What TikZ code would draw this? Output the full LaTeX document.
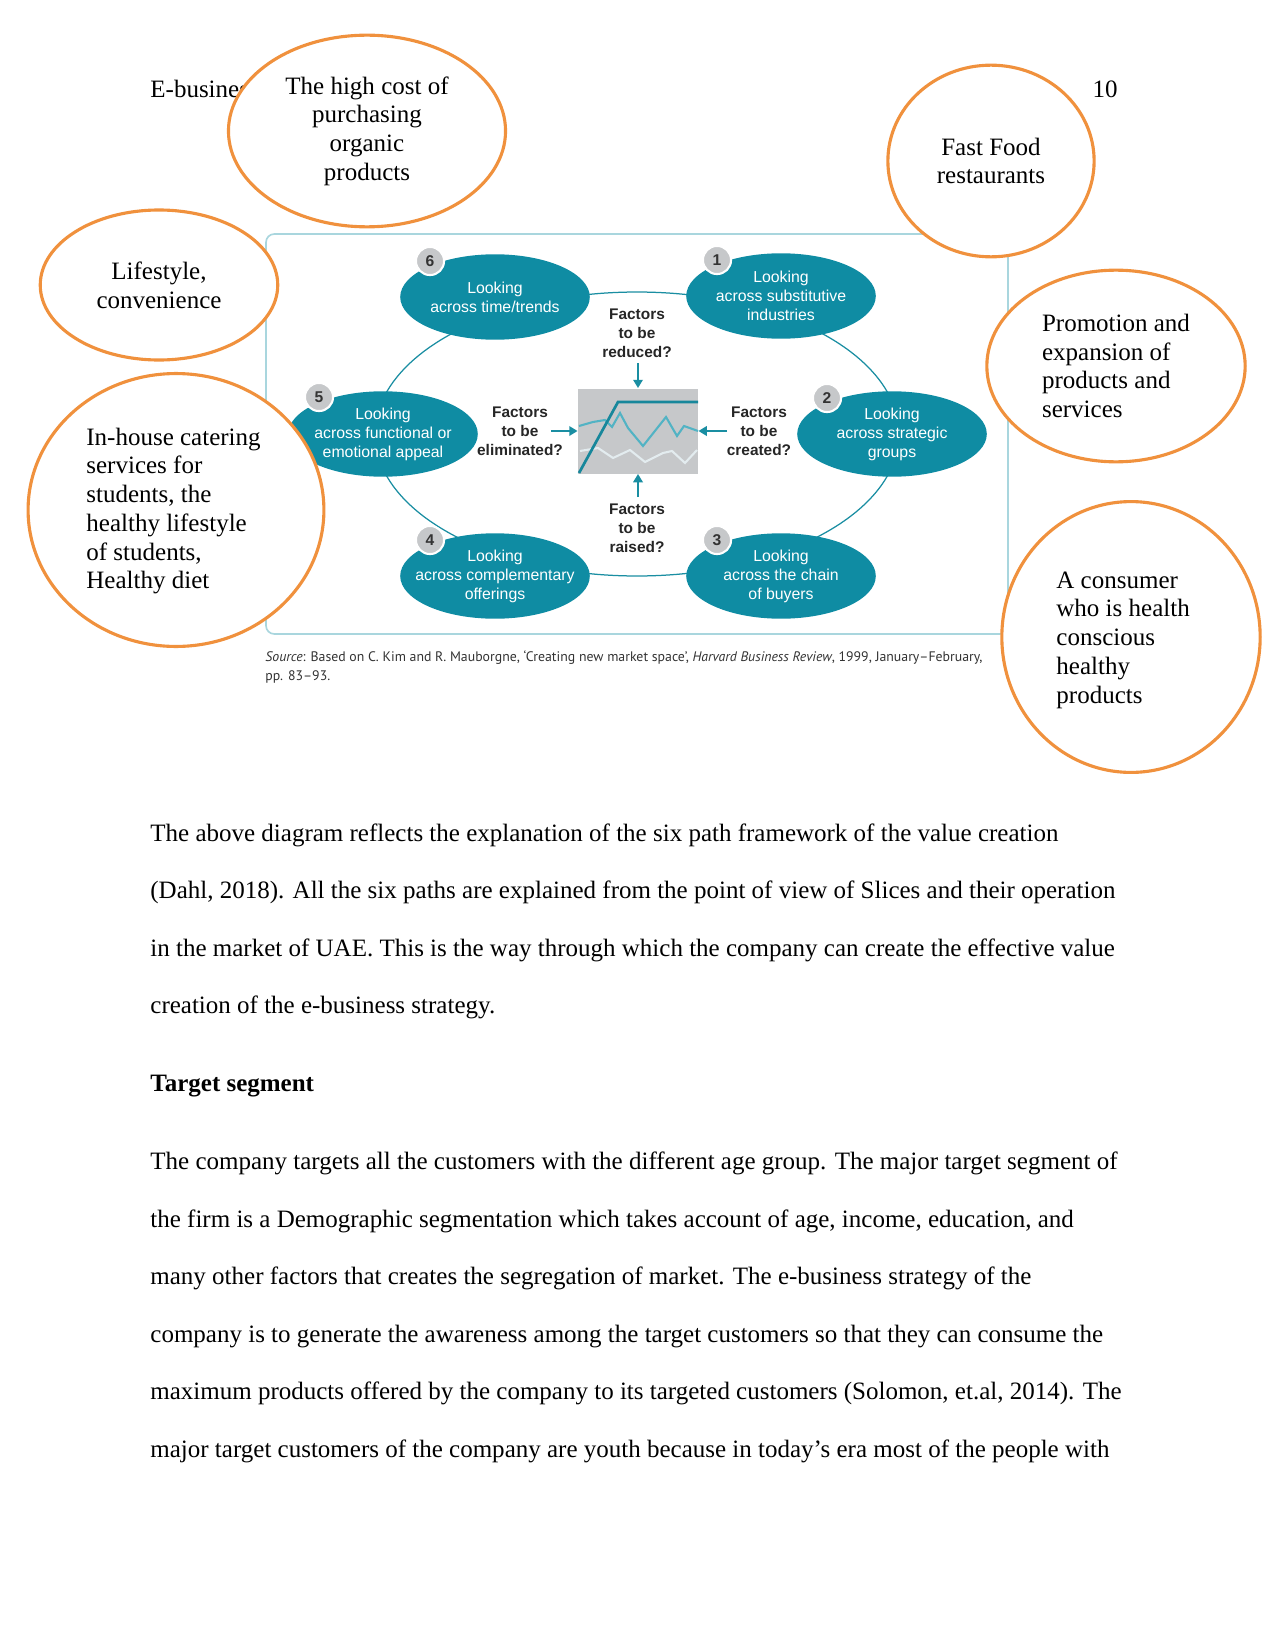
\documentclass[tikz,border=0pt]{standalone}
\usepackage{fontspec}
\setmainfont{Liberation Serif}
\setsansfont{Liberation Sans}
\newfontfamily\srcfont{PT Sans}
\usetikzlibrary{positioning,arrows.meta,shapes.geometric}
\definecolor{cteal}{HTML}{0F8CA3}
\definecolor{cline}{HTML}{1A8EA2}
\definecolor{cframe}{HTML}{A9D6DE}
\definecolor{cbadge}{HTML}{C6C8CA}
\definecolor{corange}{HTML}{F0913D}
\definecolor{cbox}{HTML}{C6C8CA}
\definecolor{cmid}{HTML}{52B3C4}
\definecolor{cpale}{HTML}{E3ECEF}
\definecolor{cdark}{HTML}{17879B}

\begin{document}
\begin{tikzpicture}[
  x=0.48pt, y=-0.48pt,
  pathnode/.style={ellipse, fill=cteal, text=white, inner sep=0pt, inner xsep=-8pt, minimum width=91pt, minimum height=41pt, align=center, font=\sffamily\fontsize{7.6}{9.1}\selectfont},
  badge/.style={circle, fill=cbadge, draw=white, line width=1pt, minimum size=13.5pt, inner sep=0pt, font=\sffamily\bfseries\fontsize{7.5}{8}\selectfont, text=black!80},
  factor/.style={align=center, inner sep=1pt, font=\sffamily\bfseries\fontsize{7.4}{9.1}\selectfont, text=black!85},
  farrow/.style={-{Triangle[length=4pt,width=4.5pt]}, cline, line width=1pt},
  bubble/.style={ellipse, draw=corange, line width=1.5pt, fill=white, inner sep=0pt, font=\fontsize{12}{13.8}\selectfont},
  bubtext/.style={anchor=west, align=left, inner sep=0pt, font=\fontsize{12}{13.8}\selectfont},
  bodyline/.style={anchor=base west, inner sep=0pt, font=\fontsize{12}{14}\selectfont},
]
  \useasboundingbox (0,0) rectangle (1275,1651);
  % --- figure frame + ring ---
  \draw[cframe, line width=0.8pt, rounded corners=4pt] (266,234) rectangle (1008,634);
  \node[ellipse, draw=cline, line width=0.6pt, inner sep=0pt, minimum width=251.5pt, minimum height=136.3pt] (ring) at (637,434) {};
  % --- six paths ---
  \node[pathnode] (p6) at (495,297) {Looking\\across time/trends};
  \node[pathnode] (p1) at (781,296) {Looking\\across substitutive\\industries};
  \node[pathnode] (p5) at (383,434) {Looking\\across functional or\\emotional appeal};
  \node[pathnode] (p2) at (892,434) {Looking\\across strategic\\groups};
  \node[pathnode] (p4) at (495,576) {Looking\\across complementary\\offerings};
  \node[pathnode] (p3) at (781,576) {Looking\\across the chain\\of buyers};
  \node[badge] (b6) at (430,261) {6};
  \node[badge] (b1) at (717,260) {1};
  \node[badge] (b5) at (319,397) {5};
  \node[badge] (b2) at (827,398) {2};
  \node[badge] (b4) at (430,540) {4};
  \node[badge] (b3) at (717,540) {3};
  % --- centre chart ---
  \node[fill=cbox, minimum width=57.6pt, minimum height=40.8pt, inner sep=0pt] (chart) at (638,431) {};
  \draw[cpale, line width=1pt] (580,451) -- (598,448) -- (613,458) -- (630,450) -- (645,462) -- (663,453) -- (672,451) -- (685,463) -- (697,450);
  \draw[cmid, line width=1pt] (579,426) -- (593,422) -- (605,420) -- (612,427) -- (620,413) -- (628,428) -- (643,446) -- (666,417) -- (677,436) -- (684,426) -- (698,431);
  \draw[cdark, line width=1.3pt] (579,473) -- (618,402) -- (698,402);
  % --- four questions ---
  \node[factor] (lred) at (637,333) {Factors\\to be\\reduced?};
  \node[factor] (lelim) at (520,431) {Factors\\to be\\eliminated?};
  \node[factor] (lcre) at (759,431) {Factors\\to be\\created?};
  \node[factor] (lrai) at (637,528) {Factors\\to be\\raised?};
  \coordinate (tred) at (638,363);
  \coordinate (trai) at (638,497);
  \coordinate (telim) at (551,431);
  \coordinate (tcre) at (727,431);
  \draw[farrow] (tred) -- (chart.north);
  \draw[farrow] (trai) -- (chart.south);
  \draw[farrow] (telim) -- (chart.west);
  \draw[farrow] (tcre) -- (chart.east);
  \node[anchor=north west, inner sep=0pt, align=left, font=\srcfont\fontsize{6.63}{9.1}\selectfont, text=black!80] (src) at (265,650) {\textit{Source}: Based on C. Kim and R. Mauborgne, ‘Creating new market space’, \textit{Harvard Business Review}, 1999, January–February,\\pp. 83–93.};
  % --- page header ---
  \node[bodyline] (head) at (150,98) {E-business};
  \node[bodyline, anchor=base east] (pnum) at (1118,98) {10};
  % --- orange call-outs ---
  \node[bubble, minimum width=133pt, minimum height=92pt, align=center] (cost) at (367,131) {The high cost of\\purchasing\\organic\\products};
  \node[bubble, minimum width=114pt, minimum height=72pt, align=center] (life) at (159,285) {Lifestyle,\\convenience};
  \node[bubble, minimum width=142pt, minimum height=131pt] (cater) at (176,510) {};
  \node[bubtext] (catertxt) at (86,511) {In-house catering\\services for\\students, the\\healthy lifestyle\\of students,\\Healthy diet};
  \node[bubble, minimum width=99pt, minimum height=92pt, align=center] (fastfood) at (991,161) {Fast Food\\restaurants};
  \node[bubble, minimum width=124pt, minimum height=92pt, align=left] (promo) at (1116,366) {Promotion and\\expansion of\\products and\\services};
  \node[bubble, minimum width=124pt, minimum height=130pt] (consumer) at (1131,637) {};
  \node[bubtext] (consumertxt) at (1056,640) {A consumer\\who is health\\conscious\\healthy\\products};
  % --- body text ---
  \foreach \yy/\txt in {
    841/{The above diagram reflects the explanation of the six path framework of the value creation},
    898/{(Dahl, 2018). All the six paths are explained from the point of view of Slices and their operation},
    956/{in the market of UAE. This is the way through which the company can create the effective value},
    1013/{creation of the e-business strategy.},
    1169/{The company targets all the customers with the different age group. The major target segment of},
    1227/{the firm is a Demographic segmentation which takes account of age, income, education, and},
    1284/{many other factors that creates the segregation of market. The e-business strategy of the},
    1342/{company is to generate the awareness among the target customers so that they can consume the},
    1399/{maximum products offered by the company to its targeted customers (Solomon, et.al, 2014). The},
    1457/{major target customers of the company are youth because in today’s era most of the people with}}
    {\node[bodyline] (l\yy) at (150,\yy) {\txt};}
  \node[bodyline, font=\fontsize{12}{14}\selectfont\bfseries] (target) at (150,1091) {Target segment};
\end{tikzpicture}
\end{document}
